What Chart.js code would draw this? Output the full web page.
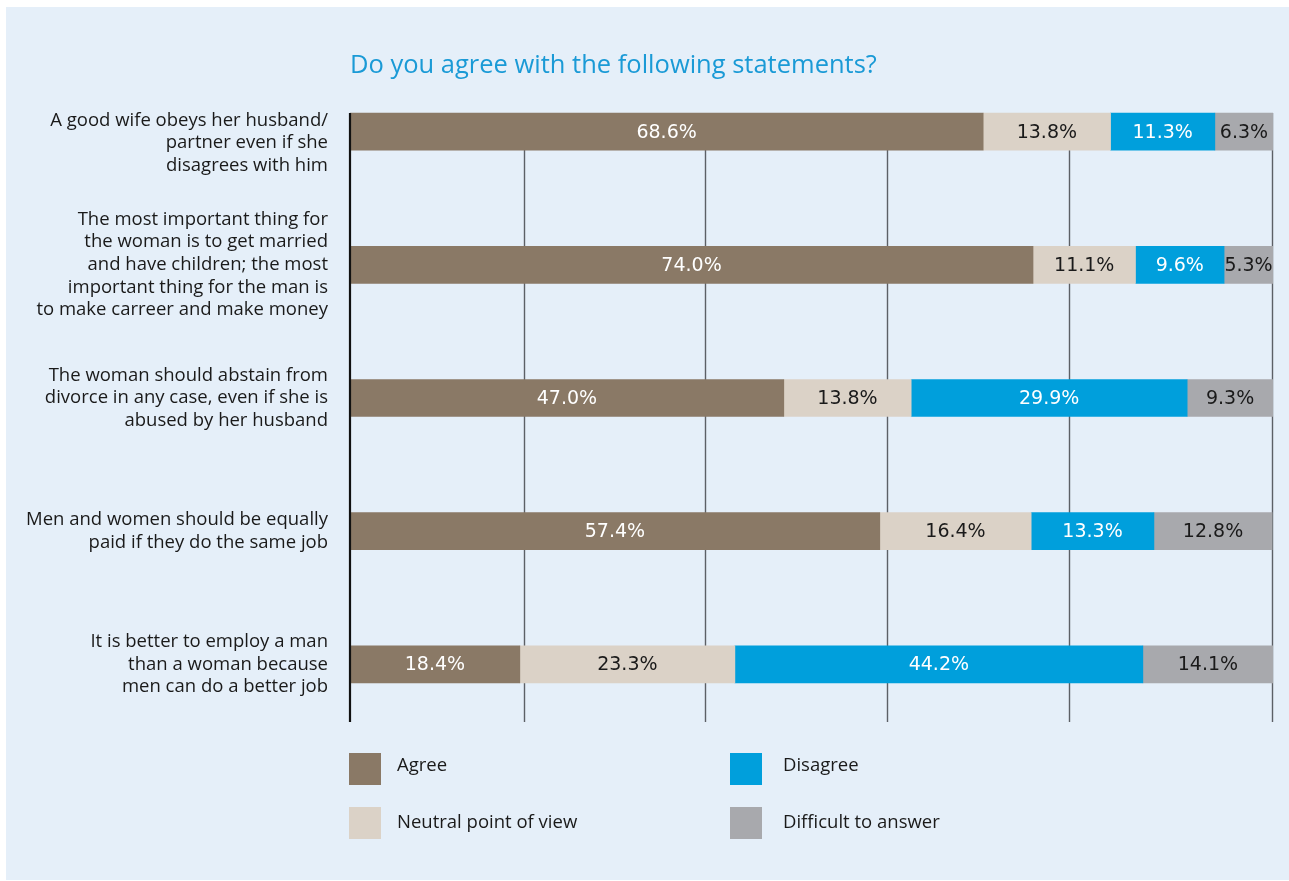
<!DOCTYPE html>
<html>
<head>
<meta charset="utf-8">
<title>Do you agree with the following statements?</title>
<script src="https://cdn.jsdelivr.net/npm/chart.js@4"></script>
<style>
  html, body { margin: 0; padding: 0; background: #ffffff; }
  #panel { position: absolute; left: 6px; top: 7px; width: 1283px; height: 873px; background: #e5eff9; }
  #chart { position: absolute; left: 0; top: 0; }
  #title { position: absolute; left: 344px; top: 39px; font: 25.5px "Open Sans"; color: #1a9ad6; white-space: nowrap; }
  #legend { position: absolute; left: 343px; top: 746px; display: grid; grid-template-columns: 381px 381px; grid-auto-rows: 54px; }
  .item { display: flex; align-items: flex-start; font: 18.5px "Open Sans"; color: #1a1a1a; }
  .item .box { width: 32px; height: 32px; flex: none; }
  .item .txt { margin-left: 16px; line-height: 22px; margin-top: 0; }
  .item:nth-child(even) .txt { margin-left: 21px; }
  .item:nth-child(n+3) .txt { margin-top: 3px; }
</style>
</head>
<body>
<div id="panel">
  <canvas id="chart" width="1283" height="873"></canvas>
  <div id="title">Do you agree with the following statements?</div>
  <div id="legend"></div>
</div>
<script>
const statements = [
  ["", "A good wife obeys her husband/", "partner even if she", "disagrees with him"],
  ["The most important thing for", "the woman is to get married", "and have children; the most", "important thing for the man is", "to make carreer and make money"],
  ["The woman should abstain from", "divorce in any case, even if she is", "abused by her husband"],
  ["Men and women should be equally", "paid if they do the same job"],
  ["It is better to employ a man", "than a woman because", "men can do a better job"]
];

const agree = [68.6, 74.0, 47.0, 57.4, 18.4];
const neutral = [13.8, 11.1, 13.8, 16.4, 23.3];
const disagree = [11.3, 9.6, 29.9, 13.3, 44.2];
const difficult = [6.3, 5.3, 9.3, 12.8, 14.1];

const seriesNames = ["Agree", "Neutral point of view", "Disagree", "Difficult to answer"];
const seriesColors = ["#8a7966", "#dbd2c7", "#009fdc", "#a8a9ad"];
const valueColors = ["#ffffff", "#1a1a1a", "#ffffff", "#1a1a1a"];

// vertical guide lines, in percent
const gridValues = [19, 38.6, 58.3, 78, 100];

const series = [agree, neutral, disagree, difficult];

// guide lines behind the bars, plus the black axis on the left
const guides = {
  id: "guides",
  beforeDatasetsDraw(chart) {
    const { ctx, chartArea, scales } = chart;
    const first = chart.getDatasetMeta(0).data[0];
    const top = first.y - first.height / 2;
    const bottom = chartArea.bottom - 9;
    ctx.save();
    ctx.strokeStyle = "#5c6066";
    ctx.lineWidth = 1.4;
    gridValues.forEach(v => {
      const x = Math.round(scales.x.getPixelForValue(v)) - 0.5;
      ctx.beginPath();
      ctx.moveTo(x, top);
      ctx.lineTo(x, bottom);
      ctx.stroke();
    });
    ctx.restore();
  },
  afterDatasetsDraw(chart) {
    const { ctx, chartArea } = chart;
    const first = chart.getDatasetMeta(0).data[0];
    const top = first.y - first.height / 2;
    ctx.save();
    ctx.strokeStyle = "#111111";
    ctx.lineWidth = 2.2;
    ctx.beginPath();
    ctx.moveTo(chartArea.left, top);
    ctx.lineTo(chartArea.left, chartArea.bottom - 9);
    ctx.stroke();
    ctx.restore();
  }
};

// percentages written in the middle of each segment
const segmentValues = {
  id: "segmentValues",
  afterDatasetsDraw(chart) {
    const { ctx } = chart;
    ctx.save();
    ctx.font = '19px "DejaVu Sans"';
    ctx.textAlign = "center";
    ctx.textBaseline = "middle";
    chart.data.datasets.forEach((ds, i) => {
      const meta = chart.getDatasetMeta(i);
      ctx.fillStyle = valueColors[i];
      meta.data.forEach((bar, j) => {
        const x = (bar.x + bar.base) / 2;
        ctx.fillText(ds.data[j].toFixed(1) + "%", x, bar.y + 1);
      });
    });
    ctx.restore();
  }
};

const chart = new Chart(document.getElementById("chart"), {
  type: "bar",
  data: {
    labels: statements,
    datasets: series.map((values, i) => ({
      label: seriesNames[i],
      data: values,
      backgroundColor: seriesColors[i],
      borderWidth: 0,
      barThickness: 37
    }))
  },
  options: {
    indexAxis: "y",
    responsive: false,
    animation: false,
    layout: { padding: { top: 58, bottom: 149, left: 0, right: 16 } },
    scales: {
      x: { stacked: true, min: 0, max: 100, display: false },
      y: {
        stacked: true,
        grid: { display: false, drawTicks: false, tickLength: 0 },
        border: { display: false },
        ticks: {
          color: "#1a1a1a",
          padding: 22,
          font: { family: "Open Sans", size: 18.5, lineHeight: 1.22 }
        },
        afterFit(scale) { scale.width = 344; }
      }
    },
    plugins: {
      legend: { display: false },
      tooltip: { enabled: false }
    }
  },
  plugins: [guides, segmentValues]
});

// two-column legend: Agree / Disagree on top, Neutral / Difficult below
const legendOrder = [0, 2, 1, 3];
const legend = document.getElementById("legend");
legendOrder.forEach(i => {
  const item = document.createElement("div");
  item.className = "item";
  item.innerHTML = '<span class="box" style="background:' + seriesColors[i] + '"></span><span class="txt">' + seriesNames[i] + "</span>";
  legend.appendChild(item);
});
</script>
</body>
</html>
